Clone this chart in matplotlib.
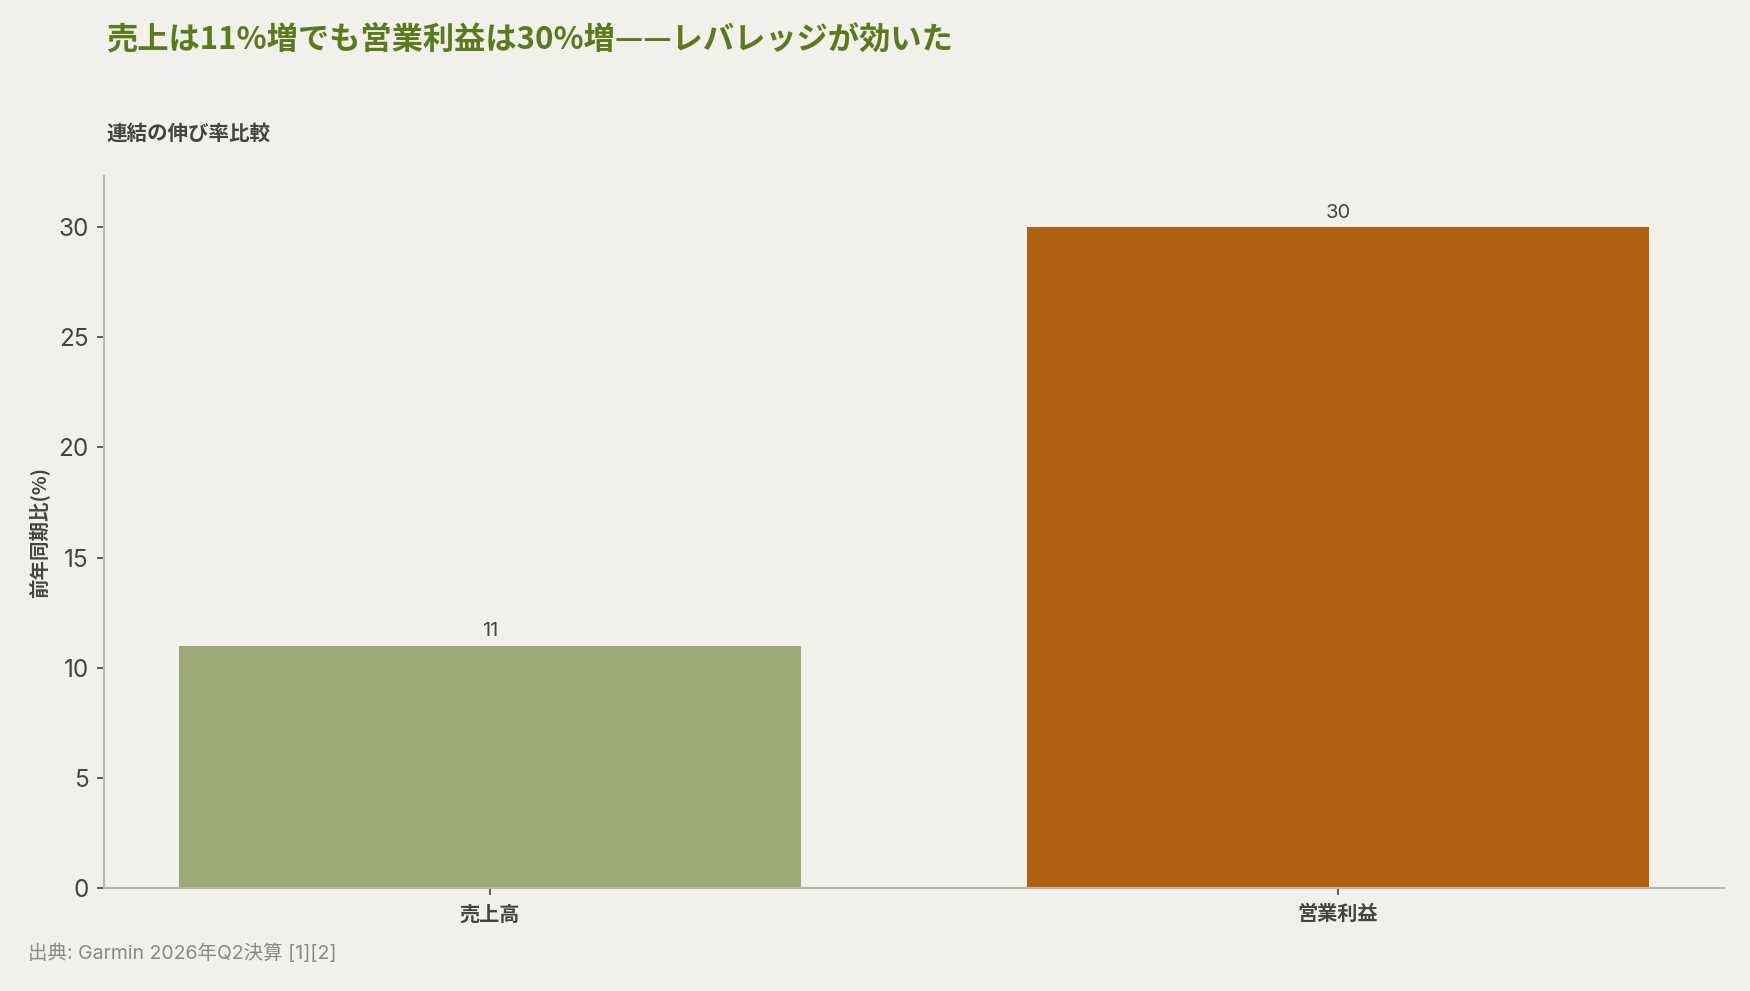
import matplotlib
matplotlib.use('Agg')
import matplotlib.pyplot as plt

plt.rcParams['font.family'] = ['Noto Sans CJK JP', 'DejaVu Sans']
latin_first = ['Inter', 'Noto Sans CJK JP']

categories = ['売上高', '営業利益']
growth = [11, 30]
bar_colors = ['#9CA876', '#B0610F']

title = '売上は11%増でも営業利益は30%増——レバレッジが効いた'
subtitle = '連結の伸び率比較'
ylabel = '前年同期比(%)'
source = '出典: Garmin 2026年Q2決算 [1][2]'

bg = '#F2F0EA'
text_dark = '#444444'
spine_col = '#B3BBA3'

fig = plt.figure(figsize=(17.5, 9.91), dpi=100, facecolor=bg)
ax = fig.add_axes([0.0594, 0.104, 0.9256, 0.718], facecolor=bg)

x = list(range(len(categories)))
bars = ax.bar(x, growth, width=0.734, color=bar_colors)
ax.bar_label(bars, labels=[str(v) for v in growth], padding=4,
             fontsize=14.5, color=text_dark, family=latin_first)

ax.set_xlim(-0.455, 1.455)
ax.set_ylim(0, 32.3)
ax.set_yticks([0, 5, 10, 15, 20, 25, 30])
ax.set_xticks(x)
ax.set_xticklabels(categories, fontsize=14.5, color=text_dark, fontweight='bold')
ax.tick_params(axis='y', labelsize=17.5, colors=text_dark, length=5, width=1.2, pad=6)
ax.tick_params(axis='x', length=5, width=1.2, colors=text_dark, pad=6)
for lbl in ax.get_yticklabels():
    lbl.set_family(latin_first)

for s in ['top', 'right']:
    ax.spines[s].set_visible(False)
for s in ['left', 'bottom']:
    ax.spines[s].set_color(spine_col)
    ax.spines[s].set_linewidth(1.5)

ax.set_ylabel(ylabel, fontsize=14, color=text_dark, fontweight='bold')
ax.yaxis.set_label_coords(-0.034, 0.5)

fig.text(0.0606, 0.960, title, fontsize=22.5, fontweight='bold', color='#5B7A1E',
         va='center', ha='left')
fig.text(0.0606, 0.865, subtitle, fontsize=14.8, fontweight='bold', color=text_dark,
         va='center', ha='left')
fig.text(0.016, 0.038, source, fontsize=14, color='#8A8A84', va='center', ha='left',
         family=latin_first)

fig.savefig('out.png', dpi=100, facecolor=bg)
